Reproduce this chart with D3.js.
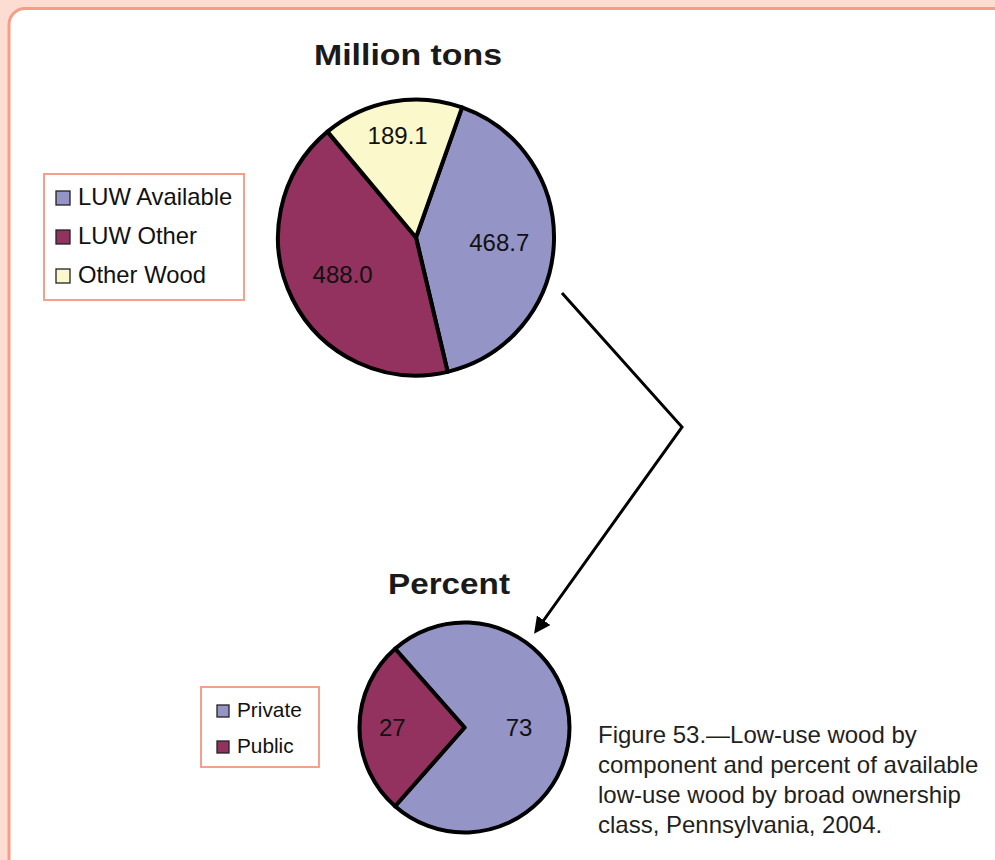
<!DOCTYPE html>
<html>
<head>
<meta charset="utf-8">
<script src="https://cdn.jsdelivr.net/npm/d3@7"></script>
<style>
  body { margin: 0; background: #fddcd1; }
  svg { display: block; font-family: "Liberation Sans", Arial, sans-serif; }
</style>
</head>
<body>
<script>
var width = 995;
var height = 860;

// top pie: million tons by component
var tonCategories = ["LUW Available", "LUW Other", "Other Wood"];
var tonValues = [468.7, 488.0, 189.1];
var tonLabels = ["468.7", "488.0", "189.1"];

// bottom pie: percent of available LUW by ownership
var ownCategories = ["Private", "Public"];
var ownValues = [73, 27];
var ownLabels = ["73", "27"];

var captionLines = [
    "Figure 53.\u2014Low-use wood by",
    "component and percent of available",
    "low-use wood by broad ownership",
    "class, Pennsylvania, 2004."
];

var colors = ["#9494c7", "#93325e", "#fbf8cc"];
var deg = Math.PI / 180;

var svg = d3.select("body")
    .append("svg")
    .attr("width", width)
    .attr("height", height);

svg.append("rect")
    .attr("width", width)
    .attr("height", height)
    .attr("fill", "#fddcd1");

svg.append("rect")
    .attr("x", 9)
    .attr("y", 8.5)
    .attr("width", 1000)
    .attr("height", 870)
    .attr("rx", 16)
    .attr("fill", "#fff")
    .attr("stroke", "#f79d86")
    .attr("stroke-width", 3);

function drawPie(cx, cy, r, values, labels, startDeg) {
    var pie = d3.pie().sort(null)
        .startAngle(startDeg * deg)
        .endAngle(startDeg * deg + 2 * Math.PI);
    var arc = d3.arc().innerRadius(0).outerRadius(r);
    var arcs = pie(values);

    var g = svg.append("g").attr("transform", "translate(" + cx + "," + cy + ")");

    g.selectAll("path")
        .data(arcs)
        .enter()
        .append("path")
        .attr("d", arc)
        .attr("fill", function(d, i) { return colors[i]; })
        .attr("stroke", "#000")
        .attr("stroke-width", 4)
        .attr("stroke-linejoin", "round");

    g.selectAll("text")
        .data(arcs)
        .enter()
        .append("text")
        .attr("transform", function(d) {
            // smaller slices push their label further out
            var a = d.endAngle - d.startAngle;
            var k = Math.max(0.52, 0.55 + 0.3 * (1 - a / Math.PI));
            var lr = r * k;
            var lab = d3.arc().innerRadius(lr).outerRadius(lr);
            return "translate(" + lab.centroid(d) + ")";
        })
        .attr("text-anchor", "middle")
        .attr("dy", "0.36em")
        .attr("font-size", "24px")
        .attr("fill", "#111")
        .text(function(d, i) { return labels[i]; });
}

function drawLegend(x, y, w, h, names, sq, textX, firstBase, step, fontSize) {
    svg.append("rect")
        .attr("x", x).attr("y", y)
        .attr("width", w).attr("height", h)
        .attr("fill", "#fff")
        .attr("stroke", "#f4a08c")
        .attr("stroke-width", 2);

    var item = svg.selectAll(null)
        .data(names)
        .enter()
        .append("g");

    item.append("rect")
        .attr("x", textX - sq - 8)
        .attr("y", function(d, i) { return firstBase + i * step - sq; })
        .attr("width", sq)
        .attr("height", sq)
        .attr("fill", function(d, i) { return colors[i]; })
        .attr("stroke", "#222")
        .attr("stroke-width", 1.3);

    item.append("text")
        .attr("x", textX)
        .attr("y", function(d, i) { return firstBase + i * step; })
        .attr("font-size", fontSize)
        .attr("fill", "#111")
        .text(function(d) { return d; });
}

// titles
svg.append("text")
    .attr("x", 408).attr("y", 64.5)
    .attr("text-anchor", "middle")
    .attr("font-weight", "bold")
    .attr("font-size", "30px")
    .attr("textLength", 188)
    .attr("lengthAdjust", "spacingAndGlyphs")
    .attr("fill", "#1a1a1a")
    .text("Million tons");

svg.append("text")
    .attr("x", 449).attr("y", 593.5)
    .attr("text-anchor", "middle")
    .attr("font-weight", "bold")
    .attr("font-size", "30px")
    .attr("textLength", 122)
    .attr("lengthAdjust", "spacingAndGlyphs")
    .attr("fill", "#1a1a1a")
    .text("Percent");

drawPie(416, 237.5, 138, tonValues, tonLabels, 19.5);
drawPie(464.5, 727.5, 105, ownValues, ownLabels, 318.6);

drawLegend(44, 174, 200, 126, tonCategories, 14, 78, 205, 39, "23.8px");
drawLegend(201, 687, 118, 80, ownCategories, 12, 237, 717, 36, "20.8px");

// connector arrow between the two pies
svg.append("defs").append("marker")
    .attr("id", "head")
    .attr("viewBox", "0 0 10 10")
    .attr("refX", 8).attr("refY", 5)
    .attr("markerWidth", 5.5).attr("markerHeight", 5.5)
    .attr("orient", "auto")
    .append("path")
    .attr("d", "M0,0 L10,5 L0,10 z")
    .attr("fill", "#000");

svg.append("path")
    .attr("d", d3.line()([[562, 293], [682, 427], [536, 631]]))
    .attr("fill", "none")
    .attr("stroke", "#000")
    .attr("stroke-width", 3)
    .attr("marker-end", "url(#head)");

// caption
svg.append("g")
    .selectAll("text")
    .data(captionLines)
    .enter()
    .append("text")
    .attr("x", 598)
    .attr("y", function(d, i) { return 743 + i * 30; })
    .attr("font-size", "24px")
    .attr("fill", "#231f20")
    .text(function(d) { return d; });
</script>
</body>
</html>
